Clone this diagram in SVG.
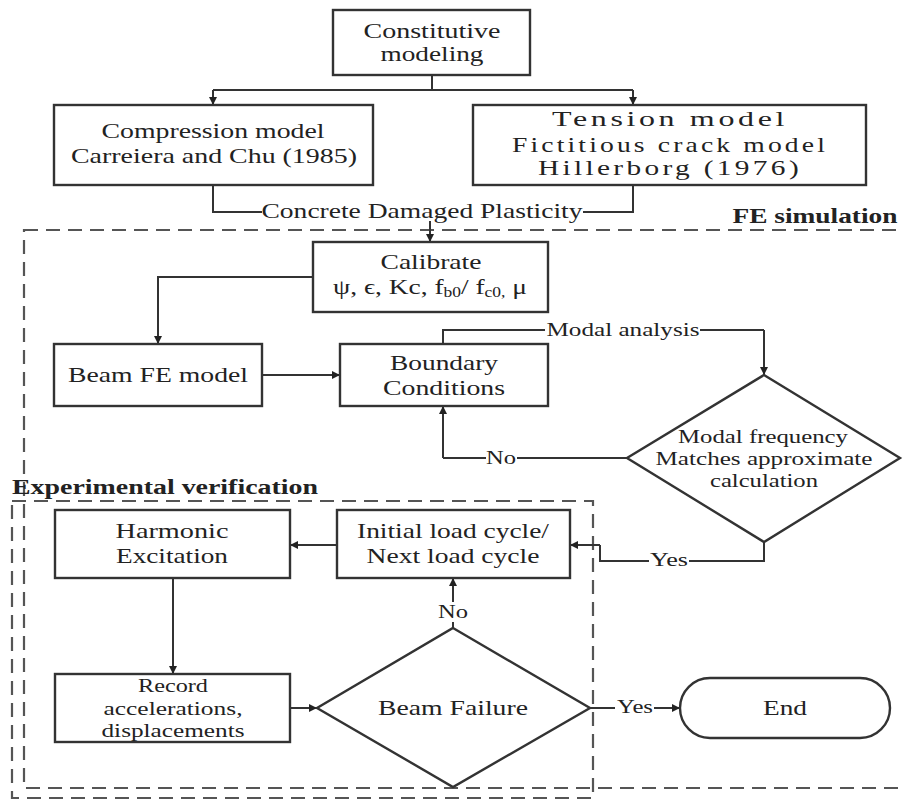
<svg xmlns="http://www.w3.org/2000/svg" width="903" height="801" viewBox="0 0 903 801">
<defs>
<style>
.bx{fill:#fff;stroke:#333;stroke-width:2.4}
.ln{fill:none;stroke:#333;stroke-width:2}
.ar{fill:none;stroke:#333;stroke-width:2;marker-end:url(#ah)}
.dash{fill:none;stroke:#555;stroke-width:2.2;stroke-dasharray:14 8}
text{font-family:"Liberation Serif","Times New Roman",serif;fill:#222;font-size:22px;text-anchor:middle}
.sm{font-size:19px}
.b{font-weight:bold}
.lbl{font-size:19px}
.ls{letter-spacing:2.5px}
</style>
<marker id="ah" viewBox="0 0 10 10" refX="10" refY="5" markerWidth="9" markerHeight="8" markerUnits="userSpaceOnUse" orient="auto">
<path d="M0,0 L10,5 L0,10 z" fill="#222"/>
</marker>
</defs>
<rect width="903" height="801" fill="#fff"/>

<g id="groups">
<rect class="dash" x="24" y="230" width="884" height="558"/>
<rect class="dash" x="12" y="501" width="581" height="297"/>
<text class="b" x="815" y="223" textLength="165" lengthAdjust="spacingAndGlyphs">FE simulation</text>
<text class="b" x="165" y="494" textLength="306" lengthAdjust="spacingAndGlyphs" style="font-size:20px">Experimental verification</text>
</g>

<g id="connectors">
<path class="ln" d="M432,75 V90 M213,90 H633"/>
<path class="ar" d="M213,90 V105"/>
<path class="ar" d="M633,90 V105"/>
<path class="ln" d="M213,185 V212 H262 M583,212 H633 V185"/>
<text x="422" y="218" textLength="321" lengthAdjust="spacingAndGlyphs">Concrete Damaged Plasticity</text>
<path class="ar" d="M430,221 V242"/>
<path class="ar" d="M313,277 H158 V344"/>
<path class="ar" d="M262,375 H340"/>
<path class="ln" d="M443,344 V330 H545 M700,330 H764"/>
<path class="ar" d="M764,330 V375"/>
<text class="lbl" x="623" y="336" textLength="153" lengthAdjust="spacingAndGlyphs">Modal analysis</text>
<path class="ln" d="M627,458 H517 M486,458 H443"/>
<path class="ar" d="M443,458 V406"/>
<text class="lbl" x="501" y="464" textLength="30" lengthAdjust="spacingAndGlyphs">No</text>
<path class="ln" d="M764,542 V561 H689 M649,561 H600 V545"/>
<path class="ar" d="M600,545 H570"/>
<text class="lbl" x="669" y="566" textLength="38" lengthAdjust="spacingAndGlyphs">Yes</text>
<path class="ar" d="M337,545 H290"/>
<path class="ar" d="M173,578 V674"/>
<path class="ar" d="M290,708 H317"/>
<path class="ln" d="M453,628 V622"/>
<path class="ar" d="M453,602 V578"/>
<text class="lbl" x="453" y="618" textLength="30" lengthAdjust="spacingAndGlyphs">No</text>
<path class="ln" d="M590,708 H615"/>
<path class="ar" d="M654,708 H680"/>
<text class="lbl" x="635" y="713" textLength="36" lengthAdjust="spacingAndGlyphs">Yes</text>
</g>

<g id="constitutive">
<rect class="bx" x="333" y="10" width="197" height="65"/>
<text x="432" y="38" textLength="137" lengthAdjust="spacingAndGlyphs">Constitutive</text>
<text x="432" y="61" textLength="103" lengthAdjust="spacingAndGlyphs">modeling</text>
</g>

<g id="compression">
<rect class="bx" x="54" y="105" width="319" height="80"/>
<text x="213" y="138" textLength="223" lengthAdjust="spacingAndGlyphs">Compression model</text>
<text x="214" y="163" textLength="286" lengthAdjust="spacingAndGlyphs">Carreiera and Chu (1985)</text>
</g>

<g id="tension">
<rect class="bx" x="473" y="105" width="393" height="80"/>
<text class="ls" x="670" y="126" textLength="236" lengthAdjust="spacingAndGlyphs">Tension  model</text>
<text class="ls" x="670" y="152" textLength="316" lengthAdjust="spacingAndGlyphs">Fictitious crack model</text>
<text class="ls" x="670" y="175" textLength="264" lengthAdjust="spacingAndGlyphs">Hillerborg (1976)</text>
</g>

<g id="calibrate">
<rect class="bx" x="313" y="242" width="235" height="70"/>
<text x="431" y="269" textLength="101" lengthAdjust="spacingAndGlyphs">Calibrate</text>
<text x="430" y="294" textLength="194" lengthAdjust="spacingAndGlyphs">ψ, ϵ, Kc, f<tspan font-size="14" dy="3">b0</tspan><tspan dy="-3">/ f</tspan><tspan font-size="14" dy="3">c0,</tspan><tspan dy="-3"> μ</tspan></text>
</g>

<g id="beam-fe">
<rect class="bx" x="54" y="344" width="208" height="62"/>
<text x="158" y="382" textLength="180" lengthAdjust="spacingAndGlyphs">Beam FE model</text>
</g>

<g id="boundary">
<rect class="bx" x="340" y="344" width="208" height="62"/>
<text x="444" y="370" textLength="108" lengthAdjust="spacingAndGlyphs">Boundary</text>
<text x="444" y="395" textLength="122" lengthAdjust="spacingAndGlyphs">Conditions</text>
</g>

<g id="modal-check">
<polygon class="bx" points="764,375 900,458 764,542 627,458"/>
<text class="sm" x="763" y="443" textLength="170" lengthAdjust="spacingAndGlyphs">Modal frequency</text>
<text class="sm" x="764" y="465" textLength="217" lengthAdjust="spacingAndGlyphs">Matches approximate</text>
<text class="sm" x="764" y="487" textLength="108" lengthAdjust="spacingAndGlyphs">calculation</text>
</g>

<g id="harmonic">
<rect class="bx" x="55" y="510" width="235" height="68"/>
<text x="172" y="538" textLength="113" lengthAdjust="spacingAndGlyphs">Harmonic</text>
<text x="172" y="563" textLength="112" lengthAdjust="spacingAndGlyphs">Excitation</text>
</g>

<g id="load-cycle">
<rect class="bx" x="337" y="510" width="233" height="68"/>
<text x="453" y="538" textLength="192" lengthAdjust="spacingAndGlyphs">Initial load cycle/</text>
<text x="453" y="563" textLength="173" lengthAdjust="spacingAndGlyphs">Next load cycle</text>
</g>

<g id="record">
<rect class="bx" x="55" y="674" width="235" height="68"/>
<text class="sm" x="173" y="692" textLength="70" lengthAdjust="spacingAndGlyphs">Record</text>
<text class="sm" x="173" y="715" textLength="139" lengthAdjust="spacingAndGlyphs">accelerations,</text>
<text class="sm" x="173" y="737" textLength="143" lengthAdjust="spacingAndGlyphs">displacements</text>
</g>

<g id="beam-failure">
<polygon class="bx" points="453,628 590,708 453,787 317,708"/>
<text x="453" y="715" textLength="150" lengthAdjust="spacingAndGlyphs">Beam Failure</text>
</g>

<g id="end">
<rect class="bx" x="680" y="678" width="210" height="60" rx="30" ry="30"/>
<text x="785" y="715" textLength="44" lengthAdjust="spacingAndGlyphs">End</text>
</g>
</svg>
